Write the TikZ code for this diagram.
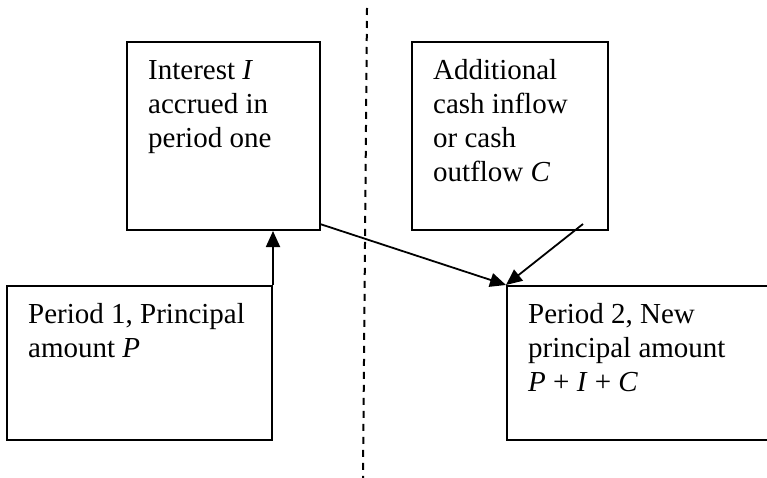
\documentclass[tikz,border=0pt]{standalone}
\usepackage{fontspec}
\setmainfont{Liberation Serif}
\usetikzlibrary{arrows.meta}
\begin{document}
\begin{tikzpicture}[x=1pt,y=-1pt,
  box/.style={draw, line width=2pt, inner sep=0pt, rectangle},
  txt/.style={anchor=base west, inner sep=0pt, font=\fontsize{29}{34}\selectfont},
  arr/.style={line width=1.8pt, -{Triangle[length=16pt,width=14pt]}},
  divider/.style={line width=2pt, dash pattern=on 7pt off 6pt}]
\useasboundingbox (0,0) rectangle (767,478);
\clip (0,0) rectangle (767,478);
% boxes
\node[box, minimum width=193pt, minimum height=188pt] (interest) at (223.5,136) {};
\node[box, minimum width=196pt, minimum height=188pt] (cash) at (510,136) {};
\node[box, minimum width=265pt, minimum height=154pt] (p1) at (139.5,363) {};
\node[box, minimum width=283pt, minimum height=154pt] (p2) at (648.5,363) {};
% texts
\node[txt] (t1a) at (148,80) {Interest \textit{I}};
\node[txt] (t1b) at (148,114) {accrued in};
\node[txt] (t1c) at (148,148) {period one};
\node[txt] (t2a) at (433,80) {Additional};
\node[txt] (t2b) at (433,114) {cash inflow};
\node[txt] (t2c) at (433,148) {or cash};
\node[txt] (t2d) at (433,182) {outflow \textit{C}};
\node[txt] (t3a) at (28,323) {Period 1, Principal};
\node[txt] (t3b) at (28,357) {amount \textit{P}};
\node[txt] (t4a) at (528,323) {Period 2, New};
\node[txt] (t4b) at (528,357) {principal amount};
\node[txt] (t4c) at (528,391) {\textit{P} + \textit{I} + \textit{C}};
% divider
\coordinate (dtop) at (367,8);
\coordinate (dbot) at (363,478);
\draw[divider] (dtop) -- (dbot);
% connectors
\coordinate (iout) at (320,224);
\coordinate (cout) at (583,224);
\draw[arr] (p1.north east) -- (p1.north east |- interest.south);
\draw[arr] (iout) -- (p2.north west);
\draw[arr] (cout) -- (p2.north west);
\end{tikzpicture}
\end{document}
